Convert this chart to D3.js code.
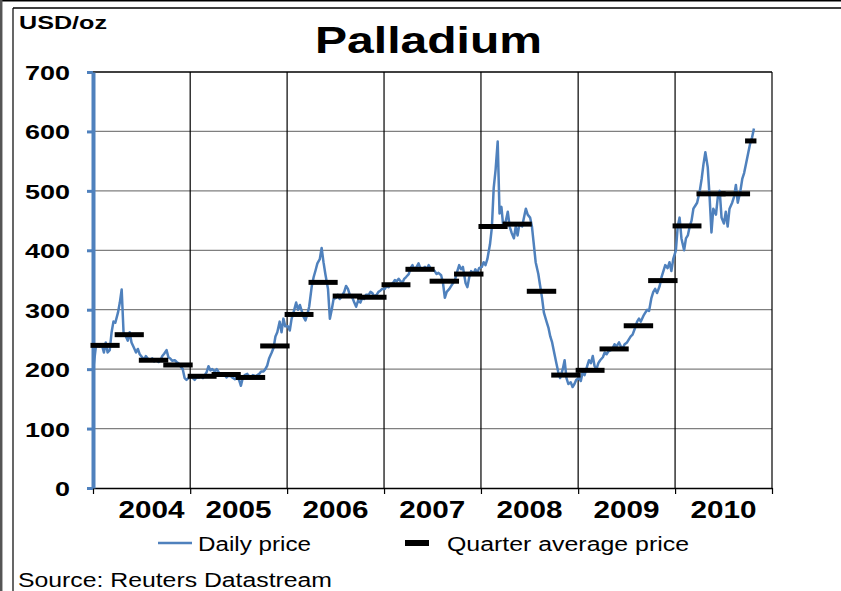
<!DOCTYPE html>
<html>
<head>
<meta charset="utf-8">
<script src="https://cdnjs.cloudflare.com/ajax/libs/d3/7.8.5/d3.min.js"></script>
<style>
body { margin: 0; background: #fff; }
svg { display: block; font-family: "Liberation Sans", Arial, sans-serif; }
</style>
</head>
<body>
<svg id="chart" width="841" height="591"></svg>
<script>
// years on the axis, quarter averages (USD/oz), weekly readings of the daily price
var years = [2004, 2005, 2006, 2007, 2008, 2009, 2010]
var yTicks = [0, 100, 200, 300, 400, 500, 600, 700]

var quarterAvg = [240, 258, 215, 207,
                  188, 191, 186, 239,
                  292, 346, 323, 321,
                  342, 368, 348, 360,
                  440, 444, 331, 190,
                  198, 234, 273, 349,
                  441, 495, 495, 584]

// four readings per month, Jan..Dec
var daily2004 = [208,235,242,238, 240,228,245,228, 232,262,280,278, 295,312,334,262,
                 255,248,262,245, 235,228,234,225, 220,215,222,218, 215,218,213,216,
                 212,215,222,226, 232,220,218,214, 215,212,210,205, 200,185,182,185]
var daily2005 = [190,185,182,186, 186,188,185,190, 195,205,198,200, 196,200,195,190,
                 192,190,186,189, 188,185,183,186, 182,172,185,190, 192,188,186,190,
                 188,190,192,196, 196,200,206,218, 228,236,255,262, 280,262,285,272]
var daily2006 = [272,265,285,295, 312,300,308,298, 288,282,292,305, 340,355,366,378,
                 385,404,380,360, 335,285,300,318, 320,325,318,322, 330,340,335,325,
                 320,312,305,315, 312,320,318,325, 325,330,328,322, 325,330,332,335]
var daily2007 = [335,340,338,342, 345,350,348,352, 348,345,352,355, 360,370,375,368,
                 372,378,370,368, 372,368,375,370, 368,365,360,362, 358,345,320,330,
                 335,340,345,350, 365,375,368,372, 345,338,355,365, 360,368,362,370]
var daily2008 = [372,380,375,385, 410,438,505,535, 583,462,473,440, 450,465,440,430,
                 420,440,425,445, 440,455,470,460, 455,440,410,380, 360,340,320,295,
                 280,270,255,245, 225,210,195,185, 200,215,185,175, 178,170,175,182]
var daily2009 = [185,180,195,190, 205,215,210,222, 205,200,210,215, 220,228,225,230,
                 232,235,242,238, 245,238,235,242, 245,250,255,258, 270,280,285,280,
                 290,295,300,298, 320,330,335,328, 340,355,365,375, 370,380,365,385]
var daily2010 = [400,440,455,420, 400,420,425,440, 450,470,475,480, 500,520,545,565,
                 540,490,430,470, 460,490,500,455, 445,465,440,470, 480,490,510,480,
                 500,520,530,545, 565,580,590,605]

var dailyByYear = [daily2004, daily2005, daily2006, daily2007, daily2008, daily2009, daily2010]

var blue = '#4F81BD'
var svg = d3.select('#chart')

// turn the weekly readings into dated points
var daily = []
dailyByYear.forEach(function(arr, yi) {
    arr.forEach(function(v, i) {
        daily.push({date: new Date(years[yi], Math.floor(i / 4), 4 + 7 * (i % 4)), value: v})
    })
})
var lastDate = daily[daily.length - 1].date

var quarters = quarterAvg.map(function(v, q) {
    var yr = years[0] + Math.floor(q / 4), qi = q % 4
    var start = new Date(yr, qi * 3, 1)
    var end = new Date(yr, qi * 3 + 3, 1)
    if (end > lastDate) end = lastDate
    return {start: start, end: end, value: v}
})

var x = d3.scaleTime()
    .domain([new Date(2004, 0, 1), new Date(2011, 0, 1)])
    .range([93, 772])
var y = d3.scaleLinear().domain([0, 700]).range([488, 72])

// outer frame
svg.append('line').attr('x1', 0).attr('x2', 841).attr('y1', 0.75).attr('y2', 0.75)
    .attr('stroke', '#000').attr('stroke-width', 1.5)
svg.append('line').attr('x1', 13).attr('x2', 841).attr('y1', 8).attr('y2', 8)
    .attr('stroke', '#000').attr('stroke-width', 1.5)
svg.append('line').attr('x1', 1.2).attr('x2', 1.2).attr('y1', 0).attr('y2', 591)
    .attr('stroke', '#555').attr('stroke-width', 2.5)
svg.append('line').attr('x1', 13).attr('x2', 13).attr('y1', 8).attr('y2', 591)
    .attr('stroke', '#000').attr('stroke-width', 1.2)

// horizontal grid
svg.append('g').selectAll('line')
    .data(yTicks.filter(function(d) { return d > 0 }))
    .enter().append('line')
    .attr('x1', 93).attr('x2', 772)
    .attr('y1', function(d) { return y(d) }).attr('y2', function(d) { return y(d) })
    .attr('stroke', function(d) { return d == 700 ? '#000' : '#7f7f7f' })
    .attr('stroke-width', 1.3)

// vertical grid at year boundaries
var yearStarts = years.concat([2011]).map(function(yr) { return new Date(yr, 0, 1) })
svg.append('g').selectAll('line')
    .data(yearStarts.slice(1))
    .enter().append('line')
    .attr('x1', function(d) { return x(d) }).attr('x2', function(d) { return x(d) })
    .attr('y1', 72).attr('y2', 488)
    .attr('stroke', '#000').attr('stroke-width', 1.2)

// x axis
var xAxis = svg.append('g')
    .attr('transform', 'translate(0,488)')
    .call(d3.axisBottom(x).tickValues(yearStarts).tickSize(6).tickSizeOuter(0).tickFormat(''))
xAxis.select('.domain').attr('stroke', '#000').attr('stroke-width', 1.3)
xAxis.selectAll('.tick line').attr('stroke', '#000').attr('stroke-width', 1.2)

svg.append('g').selectAll('text')
    .data(years)
    .enter().append('text')
    .attr('x', function(d) { return x(new Date(d, 6, 2)) + (d == 2004 ? 10 : 0) })
    .attr('y', 518)
    .attr('text-anchor', 'middle')
    .attr('font-size', 23.5)
    .attr('font-weight', 'bold')
    .attr('textLength', 66)
    .attr('lengthAdjust', 'spacingAndGlyphs')
    .text(function(d) { return d })

// y axis (blue)
var yAxis = svg.append('g')
    .attr('transform', 'translate(93,0)')
    .call(d3.axisLeft(y).tickValues(yTicks).tickSize(6).tickSizeOuter(0).tickPadding(17))
yAxis.select('.domain').attr('stroke', blue).attr('stroke-width', 4)
yAxis.selectAll('.tick line').attr('stroke', blue).attr('stroke-width', 3)
yAxis.selectAll('.tick text')
    .attr('fill', '#000')
    .attr('font-size', 21)
    .attr('font-weight', 'bold')
    .attr('font-family', '"Liberation Sans", Arial, sans-serif')
    .attr('dy', '0.36em')
    .attr('textLength', function(d) { return String(d).length * 15 })
    .attr('lengthAdjust', 'spacingAndGlyphs')

// daily price
var line = d3.line()
    .x(function(d) { return x(d.date) })
    .y(function(d) { return y(d.value) })
svg.append('path')
    .datum(daily)
    .attr('d', line)
    .attr('fill', 'none')
    .attr('stroke', blue)
    .attr('stroke-width', 2.5)
    .attr('stroke-linejoin', 'round')

// quarter averages
svg.append('g').selectAll('line')
    .data(quarters)
    .enter().append('line')
    .attr('x1', function(d) { return x(d.start) })
    .attr('x2', function(d) { return x(d.end) })
    .attr('y1', function(d) { return y(d.value) })
    .attr('y2', function(d) { return y(d.value) })
    .attr('stroke', '#000')
    .attr('stroke-width', 5)
    .attr('stroke-linecap', 'square')

// titles
svg.append('text')
    .attr('x', 428.5).attr('y', 53)
    .attr('text-anchor', 'middle')
    .attr('font-size', 37).attr('font-weight', 'bold')
    .attr('textLength', 227).attr('lengthAdjust', 'spacingAndGlyphs')
    .text('Palladium')
svg.append('text')
    .attr('x', 19).attr('y', 29)
    .attr('font-size', 17.5).attr('font-weight', 'bold')
    .attr('textLength', 88).attr('lengthAdjust', 'spacingAndGlyphs')
    .text('USD/oz')

// legend
svg.append('line').attr('x1', 158).attr('x2', 192).attr('y1', 543).attr('y2', 543)
    .attr('stroke', blue).attr('stroke-width', 2.5)
svg.append('text')
    .attr('x', 198).attr('y', 551)
    .attr('font-size', 20)
    .attr('textLength', 113).attr('lengthAdjust', 'spacingAndGlyphs')
    .text('Daily price')
svg.append('rect').attr('x', 405).attr('y', 540).attr('width', 24).attr('height', 6)
    .attr('fill', '#000')
svg.append('text')
    .attr('x', 447).attr('y', 551)
    .attr('font-size', 20)
    .attr('textLength', 242).attr('lengthAdjust', 'spacingAndGlyphs')
    .text('Quarter average price')

svg.append('text')
    .attr('x', 18).attr('y', 587)
    .attr('font-size', 20)
    .attr('textLength', 314).attr('lengthAdjust', 'spacingAndGlyphs')
    .text('Source: Reuters Datastream')
</script>
</body>
</html>
